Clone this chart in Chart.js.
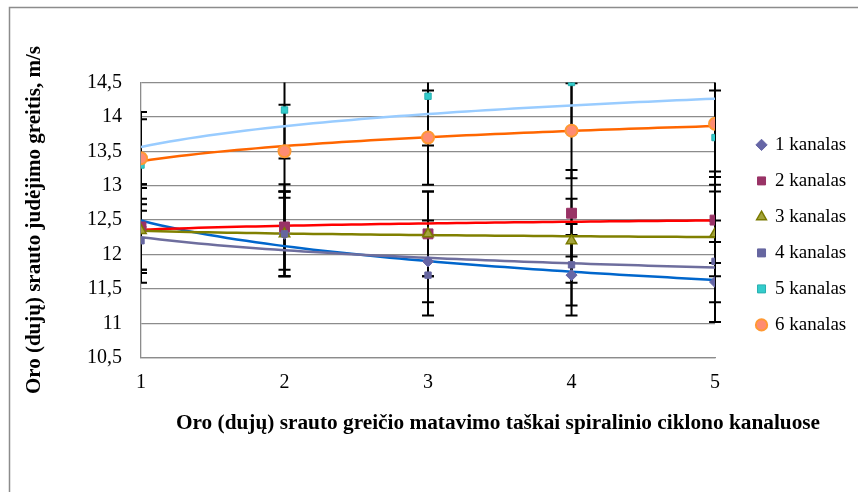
<!DOCTYPE html>
<html>
<head>
<meta charset="utf-8">
<script src="https://cdn.jsdelivr.net/npm/chart.js@4.4.0/dist/chart.umd.min.js"></script>
<style>
  html, body { margin: 0; padding: 0; background: #fff; }
  #wrap { width: 858px; height: 492px; }
</style>
</head>
<body>
<div id="wrap"><canvas id="chart" width="858" height="492"></canvas></div>
<script>
// measuring points along the cyclone channel
const points = [1, 2, 3, 4, 5];
const yTicks = [10.5, 11, 11.5, 12, 12.5, 13, 13.5, 14, 14.5];

// air (gas) flow speed, m/s, per channel
const kanalas1 = [12.4, 12.3, 11.9, 11.7, 11.6];
const kanalas2 = [12.4, 12.4, 12.3, 12.6, 12.5];
const kanalas3 = [12.35, 12.3, 12.3, 12.2, 12.3];
const kanalas4 = [12.2, 12.3, 11.7, 11.85, 11.9];
const kanalas5 = [13.3, 14.1, 14.3, 14.5, 13.7];
const kanalas6 = [13.4, 13.5, 13.7, 13.8, 13.9];

const seriesNames = ['1 kanalas', '2 kanalas', '3 kanalas', '4 kanalas', '5 kanalas', '6 kanalas'];
const seriesValues = [kanalas1, kanalas2, kanalas3, kanalas4, kanalas5, kanalas6];
const errorPercent = 5;

const xTitle = 'Oro (dujų) srauto greičio matavimo taškai spiralinio ciklono kanaluose';
const yTitle = 'Oro (dujų) srauto judėjimo greitis, m/s';

const styles = [
  { pointStyle: 'rectRot', radius: 5.5, fill: '#6666A6', border: '#6666A6', bw: 1, trend: '#0066CC' },
  { pointStyle: 'rect', radius: 7, fill: '#993366', border: '#993366', bw: 1, trend: '#FF0000' },
  { pointStyle: 'triangle', radius: 6, fill: '#A3A33A', border: '#7A7A00', bw: 1.5, trend: '#808000' },
  { pointStyle: 'rect', radius: 4.5, fill: '#6666A0', border: '#6666A0', bw: 1, trend: '#6E6E9E' },
  { pointStyle: 'rect', radius: 4.5, fill: '#33CCCC', border: '#29AFAF', bw: 1, trend: '#99CCFF' },
  { pointStyle: 'circle', radius: 6, fill: '#FF8C72', border: '#FF9933', bw: 2, trend: '#FF6600' },
];

const gridColor = '#8c8c8c';
Chart.defaults.font.family = '"Liberation Serif", "Times New Roman", serif';
Chart.defaults.color = '#000';

// least squares fit y = a + b*ln(x), like the spreadsheet's log trendline
function logFit(values) {
  const lx = points.map(Math.log);
  const n = values.length;
  const mx = lx.reduce((s, v) => s + v, 0) / n;
  const my = values.reduce((s, v) => s + v, 0) / n;
  let sxy = 0;
  let sxx = 0;
  lx.forEach((v, i) => {
    sxy += (v - mx) * (values[i] - my);
    sxx += (v - mx) * (v - mx);
  });
  const b = sxy / sxx;
  return { a: my - b * mx, b };
}

const errorBarsAndTrends = {
  id: 'errorBarsAndTrends',
  beforeDatasetsDraw(chart) {
    const { ctx, chartArea: area } = chart;
    const x = chart.scales.x;
    const y = chart.scales.y;

    // error bars
    ctx.save();
    ctx.beginPath();
    ctx.rect(area.left, area.top, chart.width - area.left, area.bottom - area.top);
    ctx.clip();
    ctx.strokeStyle = '#000';
    ctx.lineWidth = 2;
    seriesValues.forEach(values => {
      values.forEach((v, i) => {
        const px = x.getPixelForValue(points[i]);
        const d = v * errorPercent / 100;
        const top = y.getPixelForValue(v + d);
        const bot = y.getPixelForValue(v - d);
        ctx.beginPath();
        ctx.moveTo(px, top);
        ctx.lineTo(px, bot);
        ctx.moveTo(px - 6, top);
        ctx.lineTo(px + 6, top);
        ctx.moveTo(px - 6, bot);
        ctx.lineTo(px + 6, bot);
        ctx.stroke();
      });
    });
    ctx.restore();

    // trendlines
    ctx.save();
    ctx.beginPath();
    ctx.rect(area.left, area.top, area.right - area.left, area.bottom - area.top);
    ctx.clip();
    ctx.lineWidth = 2.5;
    seriesValues.forEach((values, k) => {
      const { a, b } = logFit(values);
      const x0 = points[0];
      const x1 = points[points.length - 1];
      ctx.strokeStyle = styles[k].trend;
      ctx.beginPath();
      for (let s = 0; s <= 60; s++) {
        const xv = x0 + (x1 - x0) * s / 60;
        const px = x.getPixelForValue(xv);
        const py = y.getPixelForValue(a + b * Math.log(xv));
        if (s === 0) ctx.moveTo(px, py);
        else ctx.lineTo(px, py);
      }
      ctx.stroke();
    });
    ctx.restore();
  },
};

const frameAndTitle = {
  id: 'frameAndTitle',
  beforeDraw(chart) {
    const { ctx } = chart;
    ctx.save();
    ctx.fillStyle = '#fff';
    ctx.fillRect(0, 0, chart.width, chart.height);
    ctx.strokeStyle = '#8c8c8c';
    ctx.lineWidth = 1.5;
    ctx.strokeRect(9.5, 7.5, chart.width + 20, chart.height + 20);
    ctx.restore();
  },
  afterDraw(chart) {
    const { ctx } = chart;
    ctx.save();
    ctx.font = 'bold 21.3px "Liberation Serif", "Times New Roman", serif';
    ctx.fillStyle = '#000';
    ctx.textAlign = 'center';
    ctx.textBaseline = 'middle';
    ctx.fillText(xTitle, 498, 423);
    ctx.restore();
  },
};

const datasets = seriesValues.map((values, k) => ({
  label: seriesNames[k],
  data: values.map((v, i) => ({ x: points[i], y: v })),
  showLine: false,
  order: seriesValues.length - k,
  pointStyle: styles[k].pointStyle,
  pointRadius: styles[k].radius,
  pointHoverRadius: styles[k].radius,
  backgroundColor: styles[k].fill,
  pointBackgroundColor: styles[k].fill,
  borderColor: styles[k].border,
  pointBorderColor: styles[k].border,
  borderWidth: styles[k].bw,
  pointBorderWidth: styles[k].bw,
}));

new Chart(document.getElementById('chart'), {
  type: 'scatter',
  data: { datasets },
  options: {
    responsive: false,
    devicePixelRatio: 1,
    animation: false,
    layout: {
      padding: { left: 10, top: 82.5, right: 1.75, bottom: 0 },
    },
    plugins: {
      tooltip: { enabled: false },
      legend: {
        position: 'right',
        align: 'center',
        fullSize: false,
        title: {
          display: true,
          text: '',
          font: { size: 10, lineHeight: 1 },
          padding: { top: 0, bottom: 19.6 },
        },
        labels: {
          usePointStyle: true,
          boxWidth: 8,
          boxHeight: 8,
          padding: 17,
          color: '#000',
          font: { size: 19 },
          sort: (a, b) => a.datasetIndex - b.datasetIndex,
        },
      },
    },
    scales: {
      x: {
        type: 'linear',
        position: 'bottom',
        min: points[0],
        max: points[points.length - 1],
        grid: { display: false, drawTicks: false },
        border: { display: true, color: gridColor, width: 1.3 },
        ticks: { color: '#000', font: { size: 20 }, padding: 13 },
        afterBuildTicks: s => { s.ticks = points.map(v => ({ value: v })); },
        afterFit: s => { s.height = 134.3; },
      },
      y: {
        type: 'linear',
        position: 'left',
        min: yTicks[0],
        max: yTicks[yTicks.length - 1],
        grid: { color: gridColor, lineWidth: 1.3, drawTicks: false },
        border: { display: true, color: gridColor, width: 1.3 },
        ticks: {
          color: '#000',
          font: { size: 20 },
          padding: 19,
          callback: v => String(v).replace('.', ','),
        },
        title: {
          display: true,
          text: yTitle,
          color: '#000',
          font: { size: 21, weight: 'bold' },
          padding: { top: 12.4, bottom: 0 },
        },
        afterBuildTicks: s => { s.ticks = yTicks.map(v => ({ value: v })); },
        afterFit: s => { s.width = 131; },
      },
      y2: {
        type: 'linear',
        position: 'right',
        display: true,
        grid: { display: false, drawTicks: false },
        border: { display: false },
        ticks: { display: false },
        afterFit: s => { s.width = 25.5; },
      },
    },
  },
  plugins: [frameAndTitle, errorBarsAndTrends],
});
</script>
</body>
</html>
